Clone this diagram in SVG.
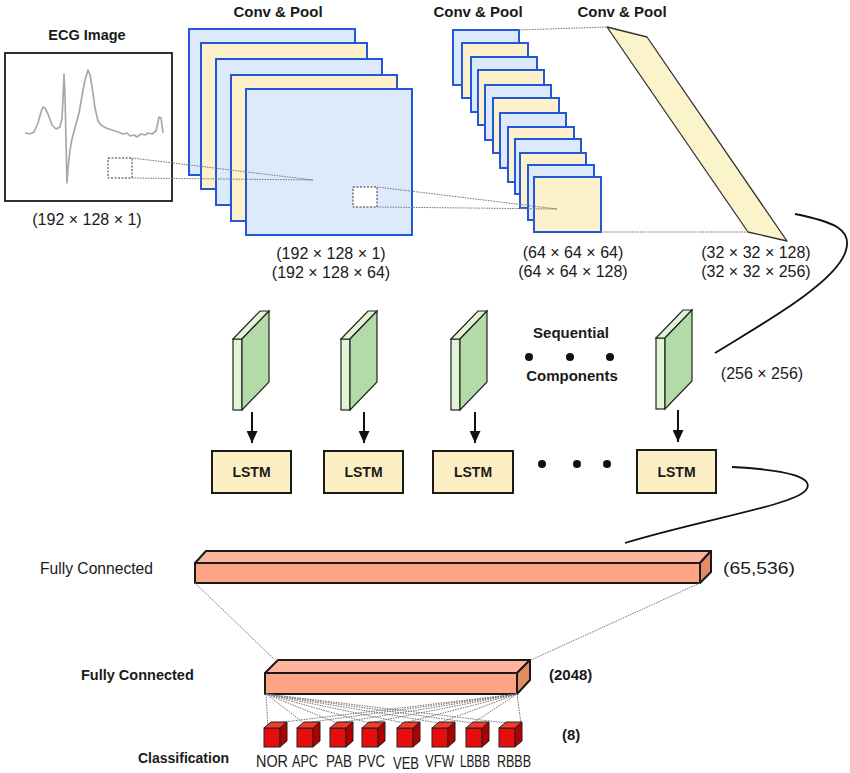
<svg xmlns="http://www.w3.org/2000/svg" width="850" height="773" viewBox="0 0 850 773">
<defs>
<style>
text{font-family:"Liberation Sans",Arial,sans-serif;fill:#1a1a1a}
.ttl{font-size:15px;font-weight:bold}
.dim{font-size:16px}
.lstm{font-size:14px;font-weight:bold}
.cls{font-size:16px}
.blue{fill:#dceafc;stroke:#2456d8;stroke-width:2}
.yel{fill:#fdf1cb;stroke:#2456d8;stroke-width:2}
.dot{fill:none;stroke:#7a7a7a;stroke-width:1;stroke-dasharray:1.6 1}
.curve{fill:none;stroke:#111;stroke-width:1.8}
.lbox{fill:#fcefc4;stroke:#1a1a1a;stroke-width:2}
.gF{fill:#e2f4d6;stroke:#222;stroke-width:1.2}
.gS{fill:#b3dba8;stroke:#222;stroke-width:1.2}
.fcF{fill:#fda485;stroke:#1a1a1a;stroke-width:2;stroke-linejoin:round}
.fcT{fill:#fdb69d;stroke:#1a1a1a;stroke-width:2;stroke-linejoin:round}
.fcR{fill:#e38c64;stroke:#1a1a1a;stroke-width:2;stroke-linejoin:round}
.cF{fill:#e80d0d;stroke:#222;stroke-width:1}
.cT{fill:#f43a28;stroke:#222;stroke-width:1}
.cR{fill:#b00000;stroke:#222;stroke-width:1}
.arr{stroke:#111;stroke-width:2;marker-end:url(#ah)}
</style>
<marker id="ah" markerWidth="12" markerHeight="11" refX="12" refY="5.5" orient="auto" viewBox="0 0 12 11" markerUnits="userSpaceOnUse">
<path d="M0,0 L12,5.5 L0,11 Z" fill="#111"/>
</marker>
<g id="slab">
<rect class="gF" x="0" y="0" width="9" height="71"/>
<polygon class="gF" points="0,0 27,-28 36,-28 9,0"/>
<polygon class="gS" points="9,0 36,-28 36,43 9,71"/>
</g>
<g id="cube">
<rect class="cF" x="0" y="6" width="16" height="19"/>
<polygon class="cT" points="0,6 7,0 23,0 16,6"/>
<polygon class="cR" points="16,6 23,0 23,19 16,25"/>
</g>
</defs>
<rect width="850" height="773" fill="#ffffff"/>

<g id="ecg">
<text class="ttl" x="87" y="40" text-anchor="middle" style="font-size:14.5px">ECG Image</text>
<rect x="5" y="53" width="167" height="148" fill="#ffffff" stroke="#1a1a1a" stroke-width="1.8"/>
<polyline fill="none" stroke="#a8a8a8" stroke-width="1.7" stroke-linejoin="round" points="25,133 30,134 34,132 38,123 41,112 43,107 45,108 48,114 52,125 56,129 60,127 62,118 63,100 64,74 65,95 66,140 67,183 68,168 70,150 72,139 76,124 79,113 82,96 85,80 88,70 90,75 92,86 95,108 98,121 101,125 106,128 112,130 118,132 123,134 127,133 130,136 134,135 137,137 141,134 145,135 148,133 152,134 156,131 158,122 159,117 161,118 162,125 163,133"/>
<rect x="108" y="158" width="24" height="20" fill="none" stroke="#333" stroke-width="1" stroke-dasharray="2 1.5"/>
<text class="dim" x="87" y="225" text-anchor="middle">(192 × 128 × 1)</text>
</g>

<g id="conv1">
<text class="ttl" x="278" y="17" text-anchor="middle">Conv &amp; Pool</text>
<rect class="blue" x="189" y="29" width="166" height="146"/>
<rect class="yel" x="201" y="43" width="166" height="146"/>
<rect class="blue" x="216" y="59" width="166" height="146"/>
<rect class="yel" x="231" y="75" width="166" height="146"/>
<rect class="blue" x="246" y="89" width="166" height="146"/>
<rect x="353" y="187" width="24" height="20" fill="#ffffff" stroke="#333" stroke-width="1" stroke-dasharray="2 1.5"/>
<text class="dim" x="331" y="259" text-anchor="middle">(192 × 128 × 1)</text>
<text class="dim" x="331" y="278" text-anchor="middle">(192 × 128 × 64)</text>
</g>

<g id="conv2">
<text class="ttl" x="478" y="17" text-anchor="middle">Conv &amp; Pool</text>
<rect class="blue" x="453" y="30" width="66" height="55"/>
<rect class="yel" x="462" y="43" width="66" height="55"/>
<rect class="blue" x="471" y="57" width="66" height="55"/>
<rect class="yel" x="478" y="70" width="66" height="55"/>
<rect class="blue" x="485" y="85" width="66" height="55"/>
<rect class="yel" x="493" y="98" width="66" height="55"/>
<rect class="blue" x="500" y="113" width="66" height="55"/>
<rect class="yel" x="508" y="127" width="66" height="55"/>
<rect class="blue" x="515" y="139" width="66" height="55"/>
<rect class="yel" x="520" y="153" width="66" height="55"/>
<rect class="blue" x="528" y="165" width="66" height="55"/>
<rect class="yel" x="534" y="177" width="67" height="55"/>
<text class="dim" x="573" y="258" text-anchor="middle">(64 × 64 × 64)</text>
<text class="dim" x="573" y="277" text-anchor="middle">(64 × 64 × 128)</text>
</g>

<g id="conv3">
<text class="ttl" x="622" y="17" text-anchor="middle">Conv &amp; Pool</text>
<polygon points="607,27 647,37 787,241 748,232" fill="#fbf4cb" stroke="#333" stroke-width="1.3" stroke-linejoin="round"/>
<text class="dim" x="756" y="258" text-anchor="middle">(32 × 32 × 128)</text>
<text class="dim" x="756" y="277" text-anchor="middle">(32 × 32 × 256)</text>
</g>

<g id="seq1"><use href="#slab" x="233" y="339"/></g>
<g id="seq2"><use href="#slab" x="341" y="339"/></g>
<g id="seq3"><use href="#slab" x="451" y="339"/></g>
<g id="seq4"><use href="#slab" x="656" y="338"/></g>

<g id="seqlabel">
<text class="ttl" x="571" y="338" text-anchor="middle">Sequential</text>
<circle cx="529" cy="357" r="4" fill="#111"/>
<circle cx="570" cy="357" r="4" fill="#111"/>
<circle cx="610" cy="357" r="4" fill="#111"/>
<text class="ttl" x="572" y="381" text-anchor="middle">Components</text>
<text class="dim" x="762" y="379" text-anchor="middle">(256 × 256)</text>
</g>

<g id="lstm1"><rect class="lbox" x="212" y="451" width="79" height="42"/><text class="lstm" x="251.5" y="477" text-anchor="middle">LSTM</text></g>
<g id="lstm2"><rect class="lbox" x="324" y="451" width="79" height="42"/><text class="lstm" x="363.5" y="477" text-anchor="middle">LSTM</text></g>
<g id="lstm3"><rect class="lbox" x="433" y="451" width="80" height="42"/><text class="lstm" x="473" y="477" text-anchor="middle">LSTM</text></g>
<g id="lstm4"><rect class="lbox" x="637" y="450" width="79" height="43"/><text class="lstm" x="676.5" y="477" text-anchor="middle">LSTM</text></g>
<g id="lstmdots">
<circle cx="542" cy="464" r="4" fill="#111"/>
<circle cx="577" cy="464" r="4" fill="#111"/>
<circle cx="607" cy="464" r="4" fill="#111"/>
</g>

<g id="fc1">
<text x="40" y="574" style="font-size:17px" textLength="113" lengthAdjust="spacingAndGlyphs">Fully Connected</text>
<polygon class="fcT" points="195,563 206,551 711,551 700,563"/>
<polygon class="fcR" points="700,563 711,551 711,572 700,583"/>
<rect class="fcF" x="195" y="563" width="505" height="20"/>
<text x="723" y="574" style="font-size:17px" textLength="72" lengthAdjust="spacingAndGlyphs">(65,536)</text>
</g>

<g id="fc2">
<text x="81" y="680" style="font-size:14.5px;font-weight:bold">Fully Connected</text>
<polygon class="fcT" points="265,673 278,660 530,660 517,673"/>
<polygon class="fcR" points="517,673 530,660 530,680 517,694"/>
<rect class="fcF" x="265" y="673" width="252" height="21"/>
<text x="549" y="680" style="font-size:15px;font-weight:bold">(2048)</text>
</g>

<g id="connectors">
<line class="dot" x1="132" y1="158" x2="313" y2="180"/>
<line class="dot" x1="132" y1="178" x2="313" y2="180"/>
<line class="dot" x1="377" y1="187" x2="557" y2="209"/>
<line class="dot" x1="377" y1="207" x2="557" y2="209"/>
<line class="dot" x1="519" y1="30" x2="607" y2="27"/>
<line class="dot" x1="601" y1="232" x2="748" y2="232"/>
<path class="curve" d="M795,214 C835,222 852,230 846,250 C838,282 760,325 715,353"/>
<line class="arr" x1="252" y1="412" x2="252" y2="443"/>
<line class="arr" x1="364" y1="412" x2="364" y2="443"/>
<line class="arr" x1="475" y1="412" x2="475" y2="443"/>
<line class="arr" x1="678" y1="410" x2="678" y2="442"/>
<path class="curve" d="M732,467 C790,470 815,478 806,490 C795,505 700,520 625,543"/>
<line class="dot" x1="195" y1="583" x2="275" y2="660"/>
<line class="dot" x1="700" y1="583" x2="531" y2="660"/>
<g class="fan">
<line class="dot" x1="266" y1="694" x2="268" y2="728"/>
<line class="dot" x1="266" y1="694" x2="304" y2="723"/>
<line class="dot" x1="266" y1="694" x2="337" y2="723"/>
<line class="dot" x1="266" y1="694" x2="369" y2="723"/>
<line class="dot" x1="266" y1="694" x2="404" y2="723"/>
<line class="dot" x1="266" y1="694" x2="439" y2="723"/>
<line class="dot" x1="266" y1="694" x2="473" y2="723"/>
<line class="dot" x1="266" y1="694" x2="506" y2="723"/>
<line class="dot" x1="517" y1="694" x2="275" y2="723"/>
<line class="dot" x1="517" y1="694" x2="304" y2="723"/>
<line class="dot" x1="517" y1="694" x2="337" y2="723"/>
<line class="dot" x1="517" y1="694" x2="369" y2="723"/>
<line class="dot" x1="517" y1="694" x2="404" y2="723"/>
<line class="dot" x1="517" y1="694" x2="439" y2="723"/>
<line class="dot" x1="517" y1="694" x2="473" y2="723"/>
<line class="dot" x1="517" y1="694" x2="521" y2="723"/>
</g>
</g>

<g id="classification">
<text x="138" y="763" style="font-size:14px;font-weight:bold">Classification</text>
<text x="562" y="740" style="font-size:15px;font-weight:bold">(8)</text>
</g>
<g id="c-nor"><use href="#cube" x="264" y="722"/><text class="cls" x="256" y="767" textLength="32" lengthAdjust="spacingAndGlyphs">NOR</text></g>
<g id="c-apc"><use href="#cube" x="297" y="722"/><text class="cls" x="292" y="767" textLength="26" lengthAdjust="spacingAndGlyphs">APC</text></g>
<g id="c-pab"><use href="#cube" x="330" y="722"/><text class="cls" x="326" y="767" textLength="26" lengthAdjust="spacingAndGlyphs">PAB</text></g>
<g id="c-pvc"><use href="#cube" x="362" y="722"/><text class="cls" x="358" y="767" textLength="27" lengthAdjust="spacingAndGlyphs">PVC</text></g>
<g id="c-veb"><use href="#cube" x="397" y="722"/><text class="cls" x="393" y="769" textLength="26" lengthAdjust="spacingAndGlyphs">VEB</text></g>
<g id="c-vfw"><use href="#cube" x="432" y="722"/><text class="cls" x="425" y="767" textLength="29" lengthAdjust="spacingAndGlyphs">VFW</text></g>
<g id="c-lbbb"><use href="#cube" x="466" y="722"/><text class="cls" x="460" y="767" textLength="30" lengthAdjust="spacingAndGlyphs">LBBB</text></g>
<g id="c-rbbb"><use href="#cube" x="499" y="722"/><text class="cls" x="497" y="767" textLength="34" lengthAdjust="spacingAndGlyphs">RBBB</text></g>
</svg>
